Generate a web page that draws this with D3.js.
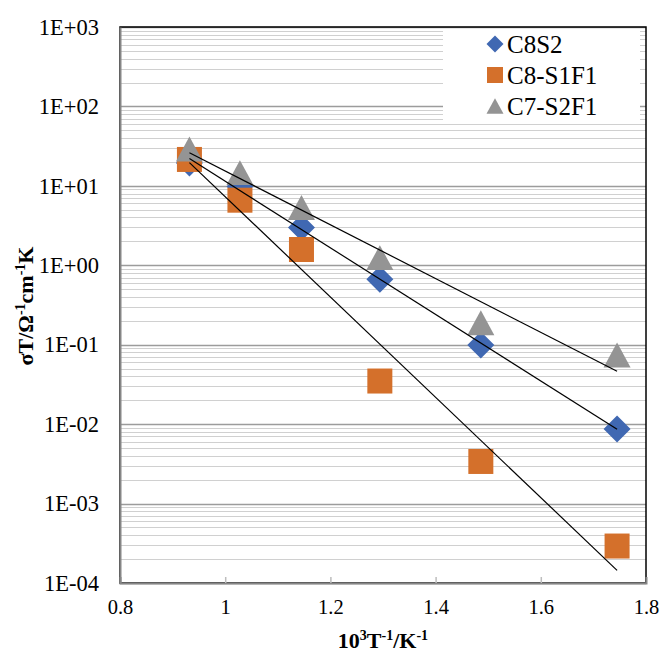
<!DOCTYPE html>
<html>
<head>
<meta charset="utf-8">
<script src="https://cdn.jsdelivr.net/npm/d3@7"></script>
<style>
  html, body { margin: 0; padding: 0; background: #fff; }
  svg { display: block; }
</style>
</head>
<body>
<svg id="chart" width="662" height="654"></svg>
<script>
// Inverse temperature, 10^3/T (K^-1)
const invT = [0.932, 1.028, 1.145, 1.294, 1.486, 1.745];
// σT (Ω^-1 cm^-1 K) for each sample
const seriesNames = ["C8S2", "C8-S1F1", "C7-S2F1"];
const c8s2 = [19.4, 9.8, 3.0, 0.666, 0.099, 0.0087];
const c8s1f1 = [21.5, 6.6, 1.58, 0.0349, 0.00339, 0.000292];
const c7s2f1 = [29.1, 14.7, 5.34, 1.25, 0.189, 0.0743];
const seriesColors = ["#4068b2", "#d4702b", "#949494"];
const seriesShapes = ["diamond", "square", "triangle"];

const xTicks = [0.8, 1, 1.2, 1.4, 1.6, 1.8];
const xTickLabels = ["0.8", "1", "1.2", "1.4", "1.6", "1.8"];
const yTicks = [1e-4, 1e-3, 1e-2, 1e-1, 1e0, 1e1, 1e2, 1e3];
const yTickLabels = ["1E-04", "1E-03", "1E-02", "1E-01", "1E+00", "1E+01", "1E+02", "1E+03"];

const allSeries = [c8s2, c8s1f1, c7s2f1];
const SERIF = "Liberation Serif";

const svg = d3.select("#chart");
const plot = { left: 120, right: 646, top: 27, bottom: 583 };

const x = d3.scaleLinear().domain([0.8, 1.8]).range([plot.left, plot.right]);
const y = d3.scaleLog().domain([1e-4, 1e3]).range([plot.bottom, plot.top]);

// Gridlines: minor (2..9 in each decade) then major (decades)
const minor = [];
for (let e = -4; e < 3; e++) for (let m = 2; m <= 9; m++) minor.push(m * Math.pow(10, e));
const grid = svg.append("g");
grid.selectAll("line.minor").data(minor).join("line")
  .attr("x1", plot.left).attr("x2", plot.right)
  .attr("y1", d => Math.round(y(d)) + 0.5).attr("y2", d => Math.round(y(d)) + 0.5)
  .attr("stroke", "#d0d0d0").attr("stroke-width", 1.2);
grid.selectAll("line.major").data(yTicks).join("line")
  .attr("x1", plot.left).attr("x2", plot.right)
  .attr("y1", d => Math.round(y(d)) + 0.5).attr("y2", d => Math.round(y(d)) + 0.5)
  .attr("stroke", "#9c9c9c").attr("stroke-width", 1.3);

// Plot-area border
svg.append("rect")
  .attr("x", plot.left).attr("y", plot.top)
  .attr("width", plot.right - plot.left).attr("height", plot.bottom - plot.top)
  .attr("fill", "none").attr("stroke", "#000").attr("stroke-width", 1.5);

// Legend background
svg.append("rect")
  .attr("x", 443).attr("y", 29).attr("width", 197).attr("height", 92)
  .attr("fill", "#fff");

// Axes (gray) drawn with d3 axis generators
const xAxis = d3.axisBottom(x).tickValues(xTicks).tickSize(-6).tickFormat((d, i) => xTickLabels[i]);
const gx = svg.append("g").attr("transform", `translate(0,${plot.bottom})`).call(xAxis)
  .attr("font-family", SERIF);
gx.select(".domain").attr("stroke", "#868686").attr("stroke-width", 2);
gx.selectAll(".tick line").attr("stroke", "#bdbdbd").attr("stroke-width", 1.5);
gx.selectAll(".tick text")
  .attr("fill", "#000").attr("font-size", 20.5).attr("y", 16).attr("dy", "0.71em")
  .attr("font-family", SERIF);
gx.selectAll(".tick").filter(d => d === 0.8 || d === 1.8).select("line").remove();

const yAxis = d3.axisLeft(y).tickValues(yTicks).tickSize(0).tickFormat((d, i) => yTickLabels[i]);
const gy = svg.append("g").attr("transform", `translate(${plot.left},0)`).call(yAxis)
  .attr("font-family", SERIF);
gy.select(".domain").attr("stroke", "#868686").attr("stroke-width", 2);
gy.selectAll(".tick text")
  .attr("fill", "#000").attr("font-size", 22.5).attr("x", -21)
  .attr("font-family", SERIF);

// Marker drawing
function marker(sel, shape, size, color) {
  if (shape === "diamond") {
    const h = size / 2;
    sel.append("path").attr("d", `M0,${-h}L${h},0L0,${h}L${-h},0Z`).attr("fill", color);
  } else if (shape === "square") {
    sel.append("rect").attr("x", -size / 2).attr("y", -size / 2)
      .attr("width", size).attr("height", size).attr("fill", color);
  } else {
    const w = size / 2, hh = size * 0.46;
    sel.append("path").attr("d", `M0,${-hh}L${w},${hh}L${-w},${hh}Z`).attr("fill", color);
  }
}

const markerSizes = [27, 25, 27];
allSeries.forEach((vals, si) => {
  const g = svg.append("g");
  vals.forEach((v, i) => {
    const m = g.append("g").attr("transform", `translate(${x(invT[i])},${y(v)})`);
    marker(m, seriesShapes[si], markerSizes[si], seriesColors[si]);
  });
});

// Exponential trendlines: least squares fit of log10(σT) against 10^3/T
const lineGen = d3.line().x(d => x(d[0])).y(d => y(d[1]));
allSeries.forEach(vals => {
  const ly = vals.map(Math.log10);
  const mx = d3.mean(invT), my = d3.mean(ly);
  const sxy = d3.sum(invT, (xi, i) => (xi - mx) * (ly[i] - my));
  const sxx = d3.sum(invT, xi => (xi - mx) * (xi - mx));
  const slope = sxy / sxx, icpt = my - slope * mx;
  const [x0, x1] = d3.extent(invT);
  const pts = [x0, x1].map(xv => [xv, Math.pow(10, icpt + slope * xv)]);
  svg.append("path").attr("d", lineGen(pts))
    .attr("fill", "none").attr("stroke", "#000").attr("stroke-width", 1.2);
});

// Legend entries
const legend = svg.append("g").attr("font-family", SERIF);
seriesNames.forEach((name, i) => {
  const cy = 44 + i * 31;
  const m = legend.append("g").attr("transform", `translate(495,${cy})`);
  marker(m, seriesShapes[i], i === 1 ? 16 : 17, seriesColors[i]);
  legend.append("text").attr("x", 507).attr("y", cy).attr("dy", "0.35em")
    .attr("font-family", SERIF)
    .attr("font-size", 25).attr("fill", "#000").text(name);
});

// Axis titles
const xt = svg.append("text").attr("x", 383).attr("y", 648)
  .attr("font-family", SERIF)
  .attr("text-anchor", "middle").attr("font-size", 22).attr("font-weight", "bold");
xt.append("tspan").text("10");
xt.append("tspan").attr("dy", -8).attr("font-size", 14).text("3");
xt.append("tspan").attr("dy", 8).text("T");
xt.append("tspan").attr("dy", -8).attr("font-size", 14).text("-1");
xt.append("tspan").attr("dy", 8).text("/K");
xt.append("tspan").attr("dy", -8).attr("font-size", 14).text("-1");

const yt = svg.append("text")
  .attr("font-family", SERIF)
  .attr("transform", "translate(33,306) rotate(-90)")
  .attr("text-anchor", "middle").attr("font-size", 22).attr("font-weight", "bold");
yt.append("tspan").text("σT/Ω");
yt.append("tspan").attr("dy", -8).attr("font-size", 14).text("-1");
yt.append("tspan").attr("dy", 8).text("cm");
yt.append("tspan").attr("dy", -8).attr("font-size", 14).text("-1");
yt.append("tspan").attr("dy", 8).text("K");
</script>
</body>
</html>
